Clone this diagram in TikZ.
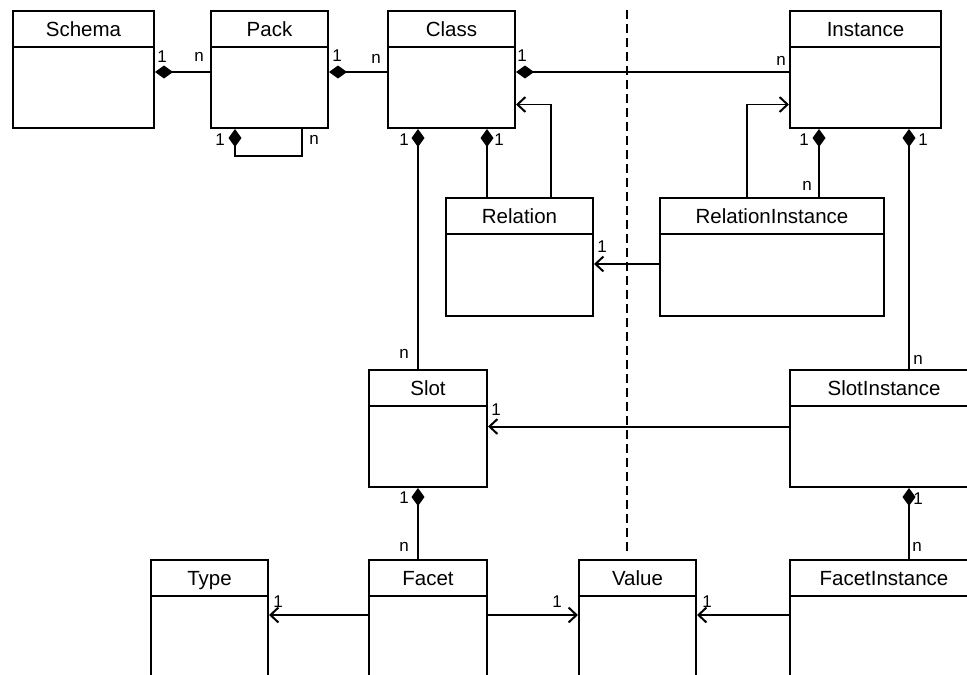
\documentclass[tikz,border=0pt]{standalone}
\usepackage{fontspec}
\setmainfont{Liberation Sans}
\usetikzlibrary{positioning}
\usetikzlibrary{arrows.meta}
\tikzset{classbox/.style = {draw, rectangle, anchor=north west, inner sep=0,
                            minimum height=117pt, line width=2pt,
                            path picture={\draw[line width=1.4pt]
                              ([yshift=-36pt]path picture bounding box.north west) --
                              ([yshift=-36pt]path picture bounding box.north east);}}}
\tikzset{classtitle/.style = {anchor=base, yshift=-26pt, inner sep=0,
                              font=\fontsize{20.5}{24}\selectfont}}
\tikzset{mult/.style = {inner sep=0, font=\fontsize{17}{20}\selectfont}}
\tikzset{comp/.style = {line width=2pt, -{Diamond[length=18pt, width=13pt]}}}
\tikzset{assoc/.style = {line width=2pt, -{Straight Barb[length=8pt, width=15pt, line width=2pt]}}}
\tikzset{thinassoc/.style = {line width=1.3pt, -{Straight Barb[length=8pt, width=15pt, line width=2pt]}}}
\tikzset{separator/.style = {line width=2pt, dash pattern=on 9pt off 5pt}}

\begin{document}
\begin{tikzpicture}[x=1pt, y=-1pt]
  \useasboundingbox (0,0) rectangle (967,675);
  \clip (0,0) rectangle (967,675);
  \draw[separator] (627,10) -- (627,553);
  \node[classbox, minimum width=141pt, label={[classtitle]north:Schema}] (schema) at (12,10) {};
  \node[classbox, minimum width=117pt, label={[classtitle]north:Pack}] (pack) at (210,10) {};
  \node[classbox, minimum width=127pt, label={[classtitle]north:Class}] (class) at (387,10) {};
  \node[classbox, minimum width=151pt, label={[classtitle]north:Instance}] (instance) at (789,10) {};
  \node[classbox, minimum width=147pt, minimum height=118pt,
        label={[classtitle]north:Relation}] (relation) at (445,197) {};
  \node[classbox, minimum width=224pt, minimum height=118pt,
        label={[classtitle]north:RelationInstance}] (relinst) at (659,197) {};
  \node[classbox, minimum width=118pt, label={[classtitle]north:Slot}] (slot) at (368,369) {};
  \node[classbox, minimum width=188pt, label={[classtitle]north:SlotInstance}] (slotinst) at (789,369) {};
  \node[classbox, minimum width=117pt, minimum height=130pt,
        label={[classtitle]north:Type}] (type) at (150,559) {};
  \node[classbox, minimum width=118pt, minimum height=130pt,
        label={[classtitle]north:Facet}] (facet) at (368,559) {};
  \node[classbox, minimum width=117pt, minimum height=130pt,
        label={[classtitle]north:Value}] (value) at (578,559) {};
  \node[classbox, minimum width=188pt, minimum height=130pt,
        label={[classtitle]north:FacetInstance}] (facetinst) at (789,559) {};

  \draw[comp] ([yshift=-2.5pt]pack.west) -- ([yshift=-2.5pt]schema.east);
  \draw[comp] ([xshift=92pt]pack.south west) -- ++(0,27) -| ([xshift=25pt]pack.south west);
  \draw[comp] ([yshift=-2.5pt]class.west) -- ([yshift=-2.5pt]pack.east);
  \draw[comp] ([yshift=-2.5pt]instance.west) -- ([yshift=-2.5pt]class.east);
  \draw[thinassoc] ([xshift=106pt]relation.north west) |- ([yshift=-35pt]class.east);
  \draw[thinassoc] ([xshift=88pt]relinst.north west) |- ([yshift=-35pt]instance.west);
  \draw[comp] ([xshift=42pt]relation.north west) -- ([xshift=100pt]class.south west);
  \draw[comp] ([xshift=50pt]slot.north west) -- ([xshift=31pt]class.south west);
  \draw[comp] ([xshift=160pt]relinst.north west) -- ([xshift=30pt]instance.south west);
  \draw[comp] ([xshift=120pt]slotinst.north west) -- ([xshift=120pt]instance.south west);
  \draw[assoc] ([yshift=-7pt]relinst.west) -- ([yshift=-7pt]relation.east);
  \draw[assoc] ([yshift=2pt]slotinst.west) -- ([yshift=2pt]slot.east);
  \draw[comp] ([xshift=50pt]facet.north west) -- ([xshift=50pt]slot.south west);
  \draw[comp] ([xshift=120pt]facetinst.north west) -- ([xshift=120pt]slotinst.south west);
  \draw[assoc] ([yshift=10pt]facet.west) -- ([yshift=10pt]type.east);
  \draw[assoc] ([yshift=10pt]facet.east) -- ([yshift=10pt]value.west);
  \draw[assoc] ([yshift=10pt]facetinst.west) -- ([yshift=10pt]value.east);

  \node[mult] (schema-1) at (162,57) {1};
  \node[mult] (pack-n) at (199,57) {n};
  \node[mult] (loop-1) at (220,140) {1};
  \node[mult] (loop-n) at (314,140) {n};
  \node[mult] (pack-1) at (337,56) {1};
  \node[mult] (class-n) at (376,59) {n};
  \node[mult] (class-1) at (522,56) {1};
  \node[mult] (instance-n) at (781,61) {n};
  \node[mult] (class-slot-1) at (404,140) {1};
  \node[mult] (class-rel-1) at (499,140) {1};
  \node[mult] (inst-rel-1) at (804,140) {1};
  \node[mult] (inst-slot-1) at (923,140) {1};
  \node[mult] (relinst-n) at (807,186) {n};
  \node[mult] (relation-1) at (602,247) {1};
  \node[mult] (slot-n) at (404,354) {n};
  \node[mult] (slotinst-n) at (918,360) {n};
  \node[mult] (slot-1) at (496,410) {1};
  \node[mult] (slot-facet-1) at (404,498) {1};
  \node[mult] (slotinst-facet-1) at (918,499) {1};
  \node[mult] (facet-n) at (404,547) {n};
  \node[mult] (facetinst-n) at (917,547) {n};
  \node[mult] (type-1) at (278,602) {1};
  \node[mult] (value-1) at (557,602) {1};
  \node[mult] (value-2) at (707,602) {1};
\end{tikzpicture}
\end{document}
